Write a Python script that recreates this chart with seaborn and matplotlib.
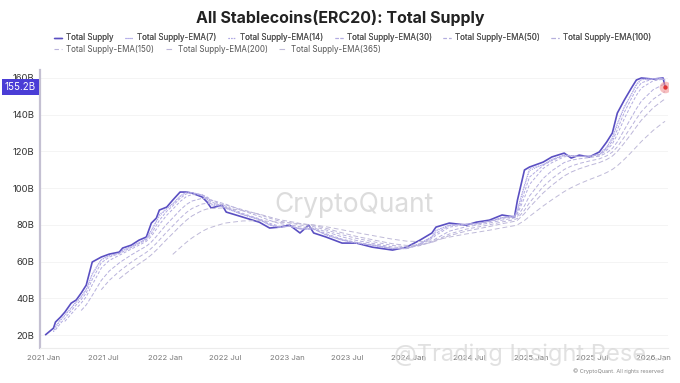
import numpy as np
import pandas as pd
import matplotlib
matplotlib.use("Agg")
import matplotlib.pyplot as plt
import seaborn as sns
from matplotlib.ticker import FuncFormatter
from matplotlib.lines import Line2D

# ---------------- data ----------------
dates = [
    "2021-01-07", "2021-02-01", "2021-02-07", "2021-02-22", "2021-03-07", "2021-03-26",
    "2021-04-10", "2021-04-25", "2021-05-10", "2021-05-28", "2021-06-24", "2021-07-18",
    "2021-08-17", "2021-08-27", "2021-09-22", "2021-10-15", "2021-11-06", "2021-11-21",
    "2021-12-06", "2021-12-15", "2022-01-06", "2022-01-24", "2022-02-15", "2022-03-06",
    "2022-03-23", "2022-04-22", "2022-05-07", "2022-05-19", "2022-06-21", "2022-07-03",
    "2022-08-21", "2022-10-10", "2022-11-10", "2022-12-10", "2023-01-09", "2023-02-09",
    "2023-03-07", "2023-03-22", "2023-04-28", "2023-06-15", "2023-07-28", "2023-09-13",
    "2023-11-13", "2023-12-25", "2024-02-03", "2024-03-10", "2024-03-22", "2024-05-01",
    "2024-06-21", "2024-07-21", "2024-08-29", "2024-10-06", "2024-11-12", "2024-11-21",
    "2024-12-12", "2024-12-27", "2025-02-06", "2025-03-04", "2025-04-10", "2025-05-01",
    "2025-05-25", "2025-06-24", "2025-07-24", "2025-08-15", "2025-09-01", "2025-09-16",
    "2025-10-07", "2025-10-28", "2025-11-12", "2025-11-27", "2026-01-01", "2026-01-31",
    "2026-02-06",
]
supply_b = [
    20.0, 23.8, 27.1, 29.8, 32.5, 37.4,
    39.1, 42.9, 47.2, 59.8, 62.5, 64.1,
    65.2, 67.4, 69.0, 71.7, 73.4, 81.0,
    83.7, 88.1, 89.7, 93.5, 97.9, 97.9,
    97.3, 95.2, 92.4, 89.2, 90.8, 87.0,
    84.3, 81.5, 78.3, 78.8, 79.9, 75.6,
    79.9, 75.6, 73.4, 70.1, 70.1, 67.9,
    66.3, 67.9, 71.7, 75.6, 78.8, 81.0,
    79.9, 81.5, 82.6, 85.4, 84.3, 93.5,
    109.9, 111.5, 114.2, 117.0, 119.1, 116.4,
    118.0, 117.0, 119.7, 125.1, 130.0, 140.9,
    148.0, 154.5, 158.9, 160.0, 159.4, 160.0,
    155.2,
]
ema_spans = [7, 14, 30, 50, 100, 150, 200, 365]
y_ticks = [20, 40, 60, 80, 100, 120, 140, 160]
tick_dates = ["2021-01-01", "2021-07-01", "2022-01-01", "2022-07-01", "2023-01-01",
              "2023-07-01", "2024-01-01", "2024-07-01", "2025-01-01", "2025-07-01",
              "2026-01-01"]
tick_labels = ["2021 Jan", "2021 Jul", "2022 Jan", "2022 Jul", "2023 Jan", "2023 Jul",
               "2024 Jan", "2024 Jul", "2025 Jan", "2025 Jul", "2026 Jan"]
title = "All Stablecoins(ERC20): Total Supply"

# ---------------- build long table ----------------
df = pd.DataFrame({"date": pd.to_datetime(dates), "value": supply_b})
t_days = (df["date"] - df["date"].iloc[0]).dt.days.to_numpy(dtype=float)
vals = df["value"].to_numpy(dtype=float)


def ema_irregular(n):
    """EMA(n) (daily span n) evaluated on irregular timestamps, seeded with the first value."""
    alpha = 2.0 / (n + 1)
    out = np.empty_like(vals)
    out[0] = vals[0]
    for i in range(1, len(vals)):
        w = 1 - (1 - alpha) ** (t_days[i] - t_days[i - 1])
        seg = 0.5 * (vals[i - 1] + vals[i])
        out[i] = out[i - 1] + w * (seg - out[i - 1])
    out[t_days < n] = np.nan
    return out


frames = [df.assign(series="Total Supply")]
for n in ema_spans:
    frames.append(pd.DataFrame({"date": df["date"], "value": ema_irregular(n),
                                "series": f"Total Supply-EMA({n})"}))
long = pd.concat(frames, ignore_index=True)
series_names = ["Total Supply"] + [f"Total Supply-EMA({n})" for n in ema_spans]

sns.set_theme(style="white")
plt.rcParams["font.family"] = ["Inter", "DejaVu Sans"]

main_col = "#5a4fc2"
ema_cols = ["#a9a2e6", "#aea7e4", "#b2abe2", "#b3addf", "#b6b0dd", "#b9b3db",
            "#bcb6d9", "#bfbad8"]
palette = dict(zip(series_names, [main_col] + ema_cols))
dash_list = [(1, 0), (1, 0.8), (1.2, 1.2), (3, 1.5), (3, 2), (4, 2), (4, 2.5),
             (5, 2.5), (5, 3)]
dashes = dict(zip(series_names, dash_list))
sizes = dict(zip(series_names, [1.2] + [0.7] * 8))

fig = plt.figure(figsize=(6.8, 3.83), dpi=100)
ax = fig.add_axes([0.059, 0.091, 0.923, 0.726])

sns.lineplot(data=long, x="date", y="value", hue="series", style="series",
             size="series", hue_order=series_names, style_order=series_names[::-1],
             size_order=series_names, palette=palette, dashes=dashes, sizes=sizes,
             ax=ax, legend=False, estimator=None, sort=True)

ax.set_xlim(pd.Timestamp("2020-12-23"), pd.Timestamp("2026-02-14"))
ax.set_ylim(12.9, 164.3)
ax.set_yticks(y_ticks)
ax.yaxis.set_major_formatter(FuncFormatter(lambda v, p: f"{int(v)}B"))
ax.set_xticks(pd.to_datetime(tick_dates))
ax.set_xticklabels(tick_labels)
ax.tick_params(axis="y", labelsize=6.8, colors="#333333", pad=4, length=0)
ax.tick_params(axis="x", labelsize=5.6, colors="#777777", pad=5, length=0)
ax.set_xlabel("")
ax.set_ylabel("")
ax.grid(axis="y", color="#f3f3f3", linewidth=0.6)
for s in ["top", "right"]:
    ax.spines[s].set_visible(False)
ax.spines["left"].set_color("#c4c0d2")
ax.spines["left"].set_linewidth(1.6)
ax.spines["bottom"].set_color("#ececec")
ax.spines["bottom"].set_linewidth(0.8)

# last point marker
last_d, last_v = df["date"].iloc[-1], df["value"].iloc[-1]
ax.scatter([last_d], [last_v], s=70, color="#f28b8b", alpha=0.55, zorder=5, linewidths=0)
ax.scatter([last_d], [last_v], s=10, color="#e03535", zorder=6, linewidths=0)

# value badge on the y axis
ax.annotate(f"{last_v:.1f}B", xy=(0, last_v), xycoords=("axes fraction", "data"),
            xytext=(-3, 0), textcoords="offset points", ha="right", va="center",
            fontsize=7, color="white", zorder=10, annotation_clip=False,
            bbox=dict(boxstyle="square,pad=0.3", fc="#4a3dd6", ec="none"))

# title
fig.text(0.5, 0.952, title, ha="center", va="center", fontsize=11.5,
         fontweight="bold", color="#222222")

# legend (two rows, left-aligned)
def handle(name):
    if name == "Total Supply":
        return Line2D([0], [0], color=palette[name], lw=1.0)
    return Line2D([0], [0], color=palette[name], lw=0.8, dashes=dashes[name])

row1 = series_names[:6]
row2 = series_names[6:]
common = dict(frameon=False, fontsize=5.8, handlelength=1.0, handletextpad=0.5,
              columnspacing=1.4, borderaxespad=0, borderpad=0, labelcolor="#555555")
leg1 = fig.legend([handle(n) for n in row1], row1, loc="center left",
                  bbox_to_anchor=(0.08, 0.901), ncol=6, **common)
leg2 = fig.legend([handle(n) for n in row2], row2, loc="center left",
                  bbox_to_anchor=(0.08, 0.872), ncol=3, **common)
fig.add_artist(leg1)

# watermarks
fig.text(0.52, 0.465, "CryptoQuant", ha="center", va="center", fontsize=19,
         color="#dcdcdc", zorder=0)
fig.text(0.78, 0.075, "@Trading Insight Rese...", ha="center", va="center",
         fontsize=17, color="#d8d8d8", alpha=0.75)
fig.text(0.91, 0.032, "© CryptoQuant. All rights reserved", ha="center", va="center",
         fontsize=4, color="#888888")

fig.savefig("out.png", dpi=100, facecolor="white")
